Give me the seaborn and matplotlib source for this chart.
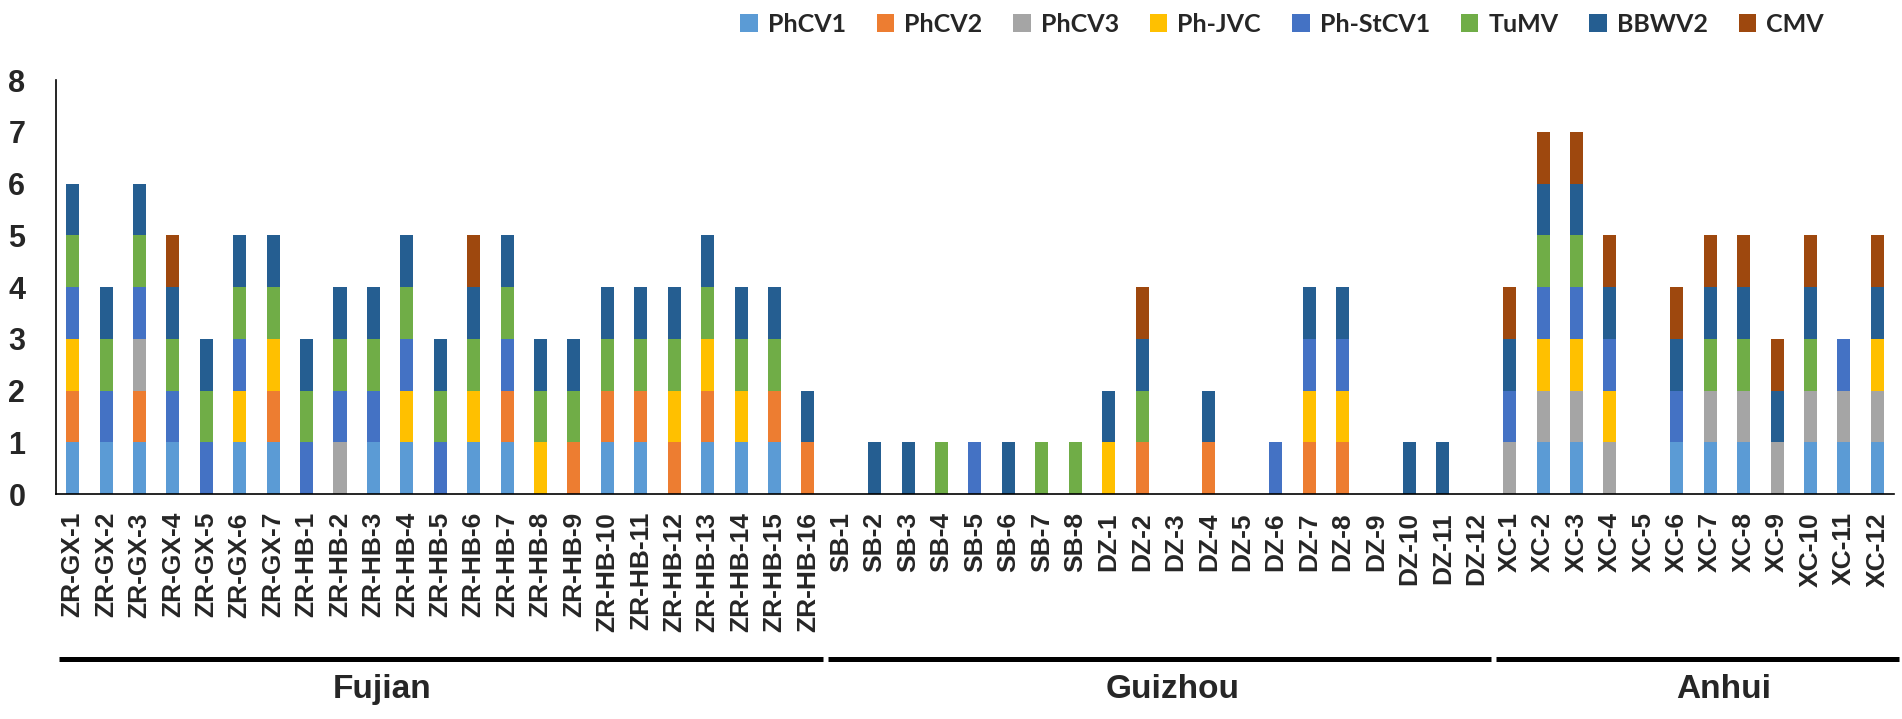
import matplotlib
matplotlib.use("Agg")
import matplotlib.pyplot as plt
import matplotlib.transforms as mtransforms
from matplotlib.patches import Patch
import numpy as np
import pandas as pd
import seaborn as sns

sns.set_style("white")
plt.rcParams['font.family'] = ['Liberation Sans', 'DejaVu Sans']

# sample names, grouped by province
fujian = [f"ZR-GX-{i}" for i in range(1, 8)] + [f"ZR-HB-{i}" for i in range(1, 17)]
guizhou = [f"SB-{i}" for i in range(1, 9)] + [f"DZ-{i}" for i in range(1, 13)]
anhui = [f"XC-{i}" for i in range(1, 13)]
samples = fujian + guizhou + anhui
groups = ["Fujian", "Guizhou", "Anhui"]
group_sizes = [len(fujian), len(guizhou), len(anhui)]

# virus detected (1) or not (0) per sample; order: Fujian(23) | SB(8) DZ(12) | XC(12)
PhCV1 = ([1,1,1,1,0,1,1, 0,0,1,1,0,1,1,0,0,1,1,0,1,1,1,0]
         + [0]*8 + [0]*12
         + [0,1,1,0,0,1,1,1,0,1,1,1])
PhCV2 = ([1,0,1,0,0,0,1, 0,0,0,0,0,0,1,0,1,1,1,1,1,0,1,1]
         + [0]*8 + [0,1,0,1,0,0,1,1,0,0,0,0]
         + [0]*12)
PhCV3 = ([0,0,1,0,0,0,0, 0,1,0,0,0,0,0,0,0,0,0,0,0,0,0,0]
         + [0]*8 + [0]*12
         + [1,1,1,1,0,0,1,1,1,1,1,1])
Ph_JVC = ([1,0,0,0,0,1,1, 0,0,0,1,0,1,0,1,0,0,0,1,1,1,0,0]
          + [0]*8 + [1,0,0,0,0,0,1,1,0,0,0,0]
          + [0,1,1,1,0,0,0,0,0,0,0,1])
Ph_StCV1 = ([1,1,1,1,1,1,0, 1,1,1,1,1,0,1,0,0,0,0,0,0,0,0,0]
            + [0,0,0,0,1,0,0,0] + [0,0,0,0,0,1,1,1,0,0,0,0]
            + [1,1,1,1,0,1,0,0,0,0,1,0])
TuMV = ([1,1,1,1,1,1,1, 1,1,1,1,1,1,1,1,1,1,1,1,1,1,1,0]
        + [0,0,0,1,0,0,1,1] + [0,1,0,0,0,0,0,0,0,0,0,0]
        + [0,1,1,0,0,0,1,1,0,1,0,0])
BBWV2 = ([1]*23
         + [0,1,1,0,0,1,0,0] + [1,1,0,1,0,0,1,1,0,1,1,0]
         + [1,1,1,1,0,1,1,1,1,1,0,1])
CMV = ([0,0,0,1,0,0,0, 0,0,0,0,0,1,0,0,0,0,0,0,0,0,0,0]
       + [0]*8 + [0,1,0,0,0,0,0,0,0,0,0,0]
       + [1,1,1,1,0,1,1,1,1,1,0,1])

viruses = ["PhCV1", "PhCV2", "PhCV3", "Ph-JVC", "Ph-StCV1", "TuMV", "BBWV2", "CMV"]
colors = ["#5B9BD5", "#ED7D31", "#A5A5A5", "#FFC000", "#4472C4", "#70AD47", "#255E91", "#9E480E"]

df = pd.DataFrame({"PhCV1": PhCV1, "PhCV2": PhCV2, "PhCV3": PhCV3, "Ph-JVC": Ph_JVC,
                   "Ph-StCV1": Ph_StCV1, "TuMV": TuMV, "BBWV2": BBWV2, "CMV": CMV},
                  index=samples)
cum = df[viruses].cumsum(axis=1)

fig = plt.figure(figsize=(19.02, 7.19), dpi=100)
ax = fig.add_axes([0.0294, 0.3129, 0.9664, 0.5758])

# stacked bars: draw cumulative totals from top layer down
for v, c in zip(viruses[::-1], colors[::-1]):
    sns.barplot(x=samples, y=cum[v].values, order=samples, color=c, saturation=1,
                width=0.39, linewidth=0, ax=ax)

ax.set_xlim(-0.5, len(samples) - 0.5)
ax.set_ylim(0, 8)
ax.set_yticks(range(0, 9))
ax.set_xlabel("")
ax.set_ylabel("")
sns.despine(ax=ax)
for s in ["left", "bottom"]:
    ax.spines[s].set_color("black")
    ax.spines[s].set_linewidth(1.2)
ax.tick_params(axis="y", length=0, pad=22, labelsize=22)
ax.tick_params(axis="x", length=0, pad=13, labelsize=19, rotation=90)
for lab in ax.get_xticklabels() + ax.get_yticklabels():
    lab.set_fontweight("bold")

# province lines and names under the tick labels
trans = mtransforms.blended_transform_factory(ax.transData, ax.transAxes)
label_x = [9.25, 32.9, 49.4]
start = 0
for name, n, lx in zip(groups, group_sizes, label_x):
    x0 = start - 0.4
    x1 = start + n - 1 + 0.45
    if name == "Anhui":
        x1 = start + n - 1 + 0.65
    ax.plot([x0, x1], [-0.399, -0.399], color="black", lw=3.6,
            solid_capstyle="butt", transform=trans, clip_on=False)
    ax.text(lx, -0.473, name, transform=trans, ha="center", va="center",
            fontsize=24, fontweight="bold")
    start += n

handles = [Patch(facecolor=c, edgecolor="none") for c in colors]
fig.legend(handles, viruses, ncol=8, loc="center", bbox_to_anchor=(0.674, 0.966),
           frameon=False, handlelength=0.7, handleheight=0.7, handletextpad=0.4,
           columnspacing=1.24, prop={"family": "Lato", "weight": "bold", "size": 18})

fig.savefig("out.png", dpi=100)
